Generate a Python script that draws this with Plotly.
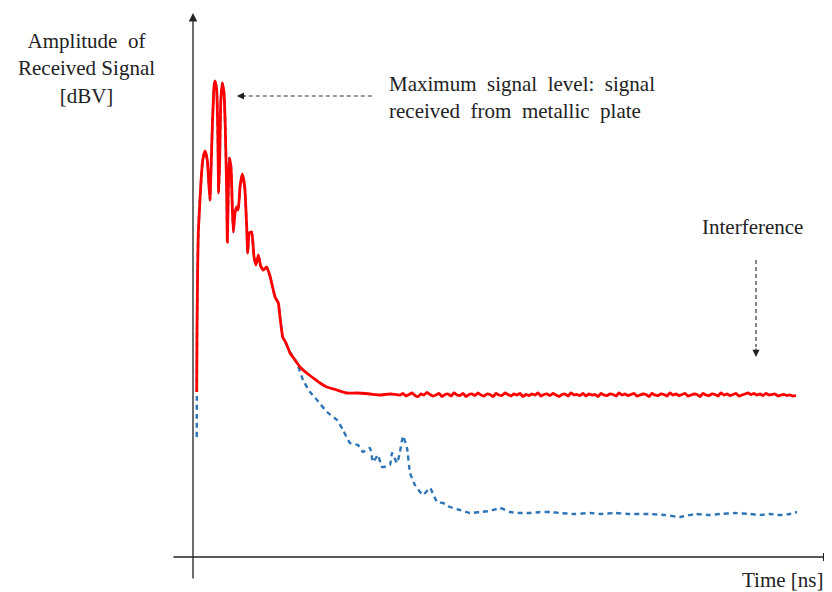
import numpy as np
import plotly.graph_objects as go

# ---- data (time in ns, amplitude in dBV) ----
# common early part of both traces (reflection from the plate)
early_t = [0.67, 0.75, 0.88, 1.28, 1.62, 2.0, 2.38, 2.67, 2.83, 3.0, 3.22, 3.5, 3.67, 3.95, 4.12,
           4.28, 4.45, 4.62, 4.88, 5.17, 5.38, 5.62, 5.72, 5.88, 6.05, 6.33, 6.55, 6.72, 7.0, 7.28,
           7.55, 7.83, 8.22, 8.62, 8.95, 9.12, 9.38, 9.78, 10.17, 10.5, 10.88, 11.28, 11.72, 12.28,
           12.83, 13.67, 14.22, 14.5, 14.95]
early_a = [-54.6, -44.6, -35.2, -26.0, -20.6, -18.8, -20.6, -26.0, -28.6, -22.6, -14.0, -6.0, -4.8,
           -6.6, -14.0, -27.2, -20.6, -9.2, -5.2, -7.2, -14.0, -27.2, -37.0, -27.2, -20.2, -22.0,
           -30.0, -35.0, -31.2, -30.0, -30.6, -26.0, -23.4, -26.0, -34.0, -39.2, -35.2, -35.0, -40.0,
           -41.6, -39.6, -41.8, -42.6, -42.0, -43.8, -48.0, -49.2, -52.0, -56.0]

red_start_a = -67.0
blue_start_a = -76.0
start_t = 0.62

red_tail_t = [15.5, 16.17, 17.0, 17.83, 18.95, 20.05, 21.17, 22.28, 23.95, 25.62, 27.28, 29.5,
              31.17, 32.83]
red_tail_a = [-57.2, -59.2, -60.6, -62.0, -63.2, -64.2, -65.2, -66.0, -66.6, -67.2, -67.2, -67.4,
              -67.6, -67.4]
# noise floor of the red trace (one sample every 0.5 ns from 34.5 ns)
red_floor_a = [-67.6, -67.3, -67.8, -67.5, -67.2, -67.7, -67.9, -67.4, -67.6, -67.1, -67.5, -67.8,
               -67.6, -67.3, -67.9, -67.5, -67.4, -67.8, -67.2, -67.6, -67.7, -67.3, -67.9, -67.5,
               -67.4, -67.7, -67.2, -67.6, -67.8, -67.4, -67.5, -67.9, -67.3, -67.6, -67.7, -67.2,
               -67.5, -67.8, -67.4, -67.6, -67.3, -67.9, -67.5, -67.7, -67.4, -67.6, -67.2, -67.8,
               -67.5, -67.4, -67.7, -67.3, -67.6, -67.9, -67.5, -67.4, -67.8, -67.2, -67.6, -67.5,
               -67.7, -67.3, -67.8, -67.4, -67.6, -67.5, -67.9, -67.3, -67.6, -67.7, -67.4, -67.5,
               -67.8, -67.2, -67.6, -67.4, -67.7, -67.5, -67.3, -67.8, -67.6, -67.4, -67.5, -67.9,
               -67.3, -67.6, -67.7, -67.4, -67.5, -67.8, -67.2, -67.6, -67.4, -67.7, -67.5, -67.3,
               -67.8, -67.6, -67.4, -67.5, -67.9, -67.3, -67.6, -67.7, -67.4, -67.5, -67.8, -67.2,
               -67.6, -67.4, -67.7, -67.5, -67.3, -67.8, -67.6, -67.4, -67.2, -67.5, -67.3, -67.6,
               -67.4, -67.7, -67.3, -67.6, -67.5, -67.4, -67.8, -67.6, -67.5, -67.7, -67.6, -67.8,
               -67.7]
red_floor_t0 = 34.5
red_floor_dt = 0.5

blue_tail_t = [15.33, 16.17, 17.33, 18.33, 19.5, 20.67, 22.33, 24.0, 25.0, 26.17, 27.5, 28.33,
               29.5, 30.0, 30.83, 31.5, 32.83, 33.17, 34.0, 34.5, 35.0, 35.67, 36.17, 37.0, 38.33,
               39.5, 40.67, 41.67, 42.83, 44.5, 46.17, 47.83, 49.5, 51.17, 52.83, 54.5, 56.17,
               57.83, 59.5, 61.17, 63.67, 66.17, 67.83, 70.33, 72.83, 76.17, 78.67, 81.17, 83.67,
               86.17, 87.83, 90.33, 92.83, 94.5, 96.17, 97.83, 99.5, 100.67]
blue_tail_a = [-57.0, -59.0, -61.2, -64.6, -67.0, -68.6, -71.0, -72.6, -74.6, -77.2, -77.6, -79.0,
               -78.2, -81.0, -79.6, -82.0, -81.6, -79.2, -81.2, -79.0, -75.8, -78.2, -83.2, -85.6,
               -87.6, -86.2, -89.0, -89.2, -90.0, -90.6, -91.2, -91.0, -90.8, -90.2, -91.0, -91.2,
               -91.2, -91.0, -91.0, -91.2, -91.4, -91.2, -91.4, -91.2, -91.4, -91.4, -91.6, -92.0,
               -91.4, -91.6, -91.4, -91.2, -91.4, -91.6, -91.4, -91.6, -91.4, -91.0]

t_floor = red_floor_t0 + red_floor_dt * np.arange(len(red_floor_a))
red_all_t = [start_t] + early_t + red_tail_t + list(t_floor)
red_all_a = [red_start_a] + early_a + red_tail_a + list(red_floor_a)
blue_all_t = [start_t] + early_t + blue_tail_t
blue_all_a = [blue_start_a] + early_a + blue_tail_a

fig = go.Figure()
fig.add_trace(go.Scatter(x=blue_all_t, y=blue_all_a, mode="lines",
                         line=dict(color="#2e75b6", width=2.4, dash="5px,4px",
                                   shape="spline", smoothing=0.4),
                         showlegend=False, hoverinfo="skip"))
fig.add_trace(go.Scatter(x=red_all_t, y=red_all_a, mode="lines",
                         line=dict(color="#ff0000", width=2.8, shape="spline", smoothing=0.4),
                         showlegend=False, hoverinfo="skip"))

axis_col = "#222222"
serif = "Liberation Serif, Times New Roman, serif"

# axes with arrows
fig.add_annotation(x=0, y=8.8, ax=0, ay=-104.6, xref="x", yref="y", axref="x", ayref="y",
                   showarrow=True, arrowhead=2, arrowsize=1.3, arrowwidth=1.3,
                   arrowcolor=axis_col, text="")
fig.add_annotation(x=106.4, y=-100, ax=-3.5, ay=-100, xref="x", yref="y", axref="x", ayref="y",
                   showarrow=True, arrowhead=2, arrowsize=1.3, arrowwidth=1.3,
                   arrowcolor=axis_col, text="")

# dashed pointer to the maximum
fig.add_shape(type="line", x0=29.8, x1=8.5, y0=-7.8, y1=-7.8, xref="x", yref="y",
              line=dict(color="#333333", width=1.2, dash="4px,3px"))
fig.add_annotation(x=7.3, y=-7.8, ax=10, ay=0, xref="x", yref="y",
                   showarrow=True, arrowhead=2, arrowsize=1.2, arrowwidth=1.2,
                   arrowcolor="#222222", text="")
# dashed pointer to interference
fig.add_shape(type="line", x0=93.83, x1=93.83, y0=-40.6, y1=-58.0, xref="x", yref="y",
              line=dict(color="#333333", width=1.2, dash="4px,3px"))
fig.add_annotation(x=93.83, y=-60.0, ax=0, ay=-10, xref="x", yref="y",
                   showarrow=True, arrowhead=2, arrowsize=1.2, arrowwidth=1.2,
                   arrowcolor="#222222", text="")

txt_font = dict(family=serif, size=21, color="#222222")
fig.add_annotation(x=32.3, y=-8.0, xref="x", yref="y", xanchor="left", yanchor="middle",
                   align="left", showarrow=False, font=txt_font,
                   text="Maximum  signal  level:  signal<br>received  from  metallic  plate")
fig.add_annotation(x=93.33, y=-34.0, xref="x", yref="y", xanchor="center", yanchor="middle",
                   showarrow=False, font=txt_font, text="Interference")
fig.add_annotation(x=98.3, y=-104.6, xref="x", yref="y", xanchor="center", yanchor="middle",
                   showarrow=False, font=txt_font, text="Time [ns]")
fig.add_annotation(x=-17.8, y=-2.2, xref="x", yref="y", xanchor="center", yanchor="middle",
                   align="center", showarrow=False, font=txt_font,
                   text="Amplitude  of<br>Received Signal<br>[dBV]")

# the page adds an 8px body margin, so the figure is 8px smaller and the ranges compensate
fig.update_xaxes(range=[-30.833, 106.5], visible=False, fixedrange=True)
fig.update_yaxes(range=[-107, 9.8], visible=False, fixedrange=True)
fig.update_layout(width=824, height=584, margin=dict(l=0, r=0, t=0, b=0),
                  paper_bgcolor="white", plot_bgcolor="white")
fig.write_html("out.html")
